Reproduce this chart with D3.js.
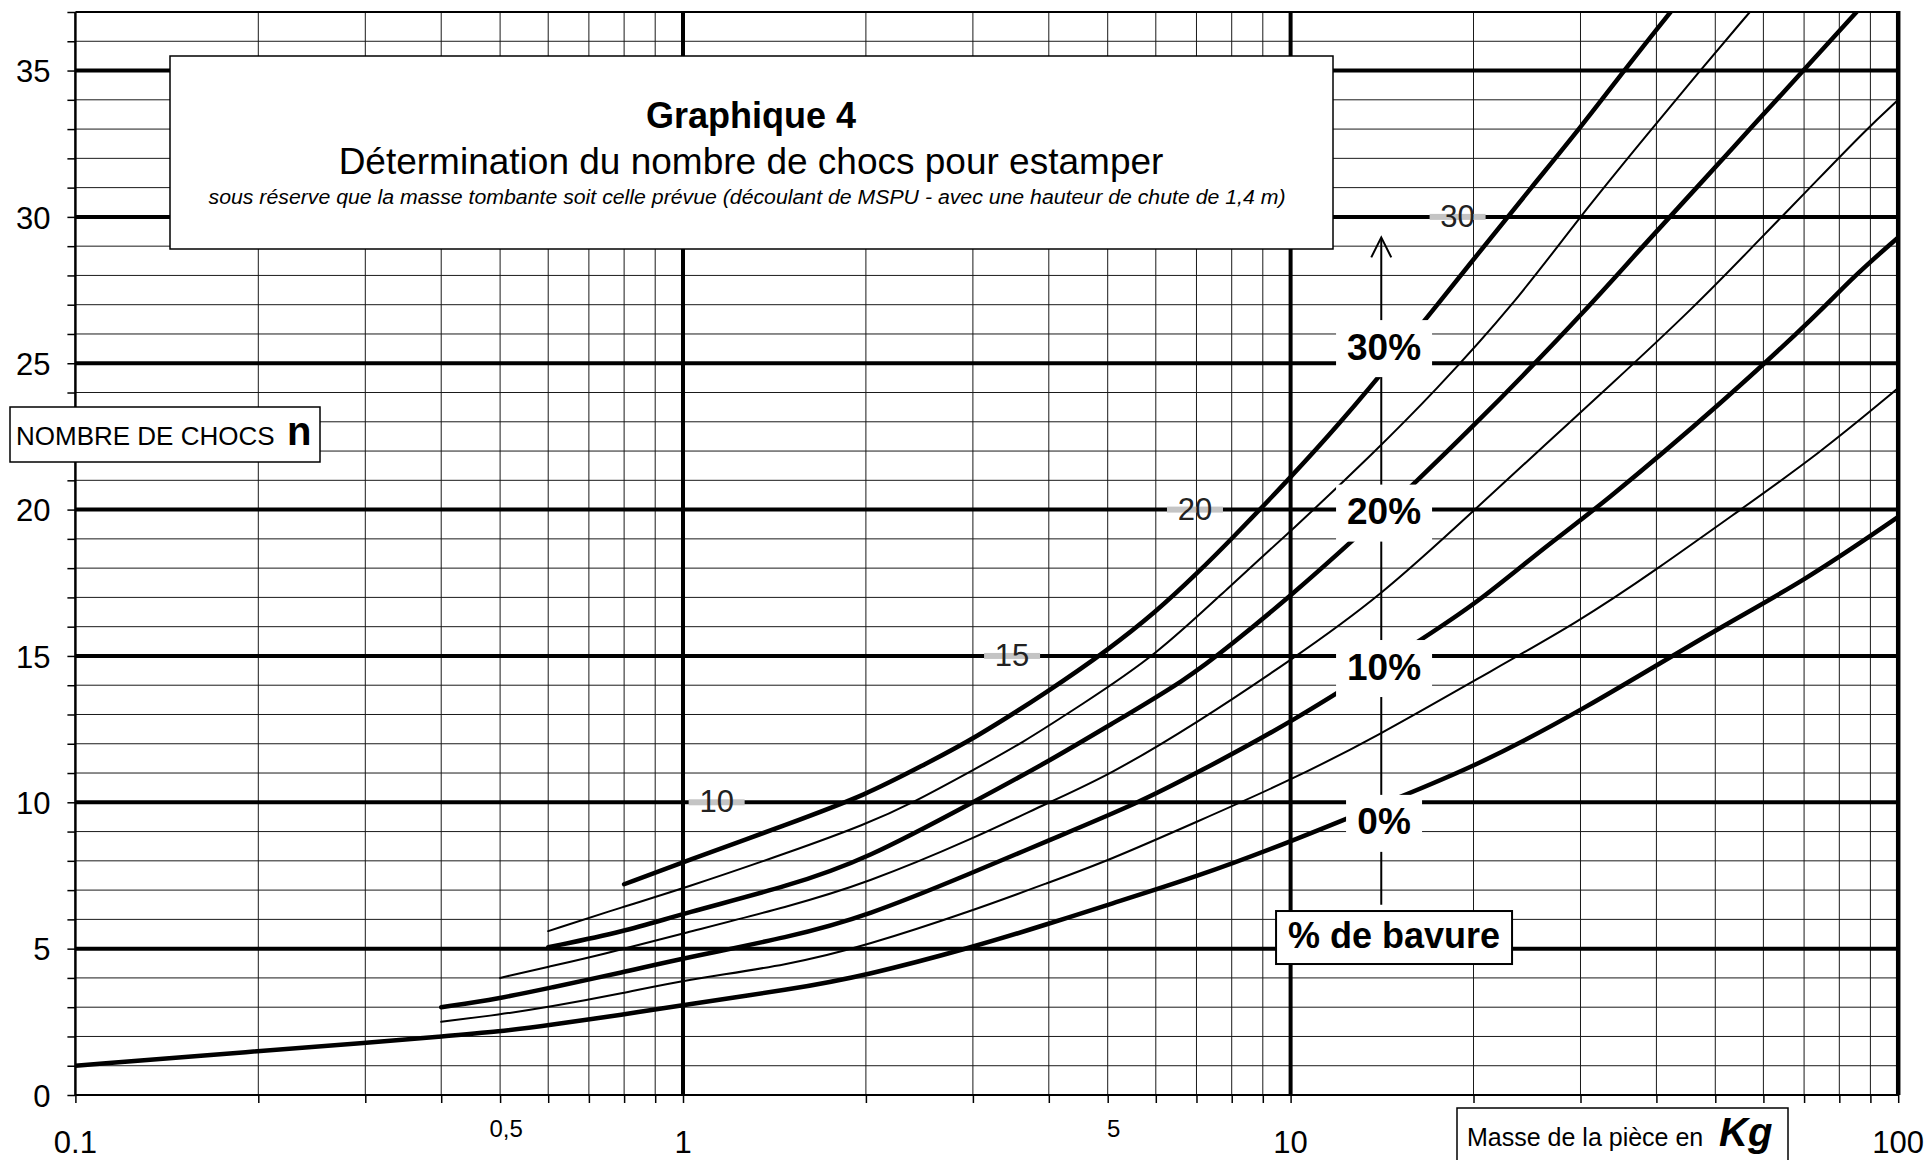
<!DOCTYPE html>
<html>
<head>
<meta charset="utf-8">
<script src="https://cdn.jsdelivr.net/npm/d3@7"></script>
<style>
  body { margin: 0; background: #fff; }
  text { font-family: "Liberation Sans", Arial, sans-serif; }
</style>
</head>
<body>
<div class="chart"></div>
<script>
// Graphique 4 - nombre de chocs pour estamper

// axis ticks
var massTicks = [0.1, 0.5, 1, 5, 10, 100];
var massTickLabels = ["0.1", "0,5", "1", "5", "10", "100"];
var chocTicks = [0, 5, 10, 15, 20, 25, 30, 35];

// curves, [masse kg, nombre de chocs], one per % de bavure
var bavure0 = [[0.1,1.0],[0.2,1.5],[0.3,1.78],[0.4,2.0],[0.5,2.17],[0.6,2.38],[0.8,2.75],[1,3.08],[1.5,3.6],[2,4.08],[3,5.05],[4,5.85],[5,6.5],[7,7.45],[10,8.65],[15,10.15],[20,11.2],[30,13.1],[50,15.9],[70,17.55],[100,19.75]];
var bavure5 = [[0.4,2.5],[0.5,2.75],[0.6,3.0],[0.8,3.48],[1,3.92],[1.5,4.45],[2,5.1],[3,6.3],[4,7.26],[5,8.0],[7,9.33],[10,10.75],[14,12.3],[20,14.15],[30,16.2],[40,17.95],[55,20],[74,21.9],[100,24.15]];
var bavure10 = [[0.4,3.0],[0.5,3.3],[0.6,3.65],[0.8,4.2],[1,4.67],[1.5,5.4],[2,6.1],[3,7.6],[4,8.7],[5.65,10],[7,11.0],[10,12.7],[16.4,15.55],[20.25,16.8],[26.7,18.86],[32,20.05],[52,23.75],[74.3,26.75],[84.3,27.95],[100,29.3]];
var bavure15 = [[0.5,4.0],[0.6,4.38],[0.73,4.78],[1,5.52],[1.5,6.45],[2,7.23],[3,8.75],[4,10.0],[5,10.9],[7,12.7],[10,14.85],[14,17],[20.1,20],[26.5,22.3],[33,24.1],[46.6,27],[57.7,29],[71.6,31],[88.7,33],[100,34.0]];
var bavure20 = [[0.6,5.05],[0.8,5.58],[1,6.2],[1.5,7.15],[2,8.05],[3,10.0],[4,11.4],[5,12.6],[6.75,14.2],[8,15.4],[10,17.05],[12.75,19],[16.2,21],[20.3,23],[23.8,24.45],[30.4,26.75],[38,29],[46.6,31],[57,33],[69.8,35],[85.4,37]];
var bavure25 = [[0.6,5.6],[0.8,6.44],[1,7.05],[1.5,8.3],[2,9.25],[2.4,10],[3,11.1],[3.6,12],[4.5,13.3],[6,15],[8,17.45],[10,19.25],[13.8,22],[17.2,24],[23.3,27],[29.9,30],[39.3,33],[47.2,35],[57,37]];
var bavure30 = [[0.8,7.2],[1,7.95],[1.5,9.28],[2,10.25],[2.5,11.3],[3,12.15],[4,13.8],[5,15.2],[6,16.5],[7,17.8],[8,19],[10,21.1],[12,22.9],[15,25.3],[20,28.55],[25,31.05],[30,33.05],[36,35.2],[42.2,37]];

// iso labels sitting on the gridlines
var isoLabels = ["10", "15", "20", "30"];
var isoLabelMass = [1.136, 3.48, 6.96, 18.83];
var isoLabelChocs = [10, 15, 20, 30];

// % de bavure labels
var pctLabels = ["30%", "20%", "10%", "0%"];
var pctLabelChocs = [25.5, 19.88, 14.57, 9.28];
var pctLabelMass = 14.25;

var svgWidth = 1930;
var svgHeight = 1160;

var plot = {left: 75.4, right: 1898.2, top: 12, bottom: 1095};

var svg = d3.select('.chart')
  .append('svg')
  .attr('width', svgWidth)
  .attr('height', svgHeight);

var xScale = d3.scaleLog().domain([0.1, 100]).range([plot.left, plot.right]);
var yScale = d3.scaleLinear().domain([0, 37]).range([plot.bottom, plot.top]);

// all vertical grid values 0.1 .. 100
var xGrid = [];
[0.1, 1, 10].forEach(function(dec) {
  for (var k = 1; k < 10; k++) xGrid.push(+(dec * k).toPrecision(3));
});
xGrid.push(100);

var gridGroup = svg.append('g');

// minor verticals
gridGroup.selectAll('line.vminor')
  .data(xGrid.filter(d => [0.1, 1, 10, 100].indexOf(d) < 0))
  .enter().append('line')
  .attr('x1', d => xScale(d)).attr('x2', d => xScale(d))
  .attr('y1', plot.top).attr('y2', plot.bottom)
  .attr('stroke', '#1a1a1a').attr('stroke-width', 1);

// minor horizontals
gridGroup.selectAll('line.hminor')
  .data(d3.range(1, 37).filter(d => d % 5 !== 0))
  .enter().append('line')
  .attr('x1', plot.left).attr('x2', plot.right)
  .attr('y1', d => yScale(d)).attr('y2', d => yScale(d))
  .attr('stroke', '#1a1a1a').attr('stroke-width', 1);

// major horizontals
gridGroup.selectAll('line.hmajor')
  .data(chocTicks.filter(d => d > 0))
  .enter().append('line')
  .attr('x1', plot.left).attr('x2', plot.right)
  .attr('y1', d => yScale(d)).attr('y2', d => yScale(d))
  .attr('stroke', '#000').attr('stroke-width', 4);

// frame and the thick decade lines
var frame = [
  {x1: plot.left, y1: yScale(0), x2: plot.right, y2: yScale(0), w: 2},
  {x1: plot.left, y1: yScale(37), x2: plot.right, y2: yScale(37), w: 2},
  {x1: xScale(0.1), y1: plot.top, x2: xScale(0.1), y2: plot.bottom, w: 2.5},
  {x1: xScale(1), y1: plot.top, x2: xScale(1), y2: plot.bottom, w: 4},
  {x1: xScale(10), y1: plot.top, x2: xScale(10), y2: plot.bottom, w: 4},
  {x1: xScale(100), y1: plot.top - 1, x2: xScale(100), y2: plot.bottom, w: 4.5}
];
gridGroup.selectAll('line.frame')
  .data(frame)
  .enter().append('line')
  .attr('x1', d => d.x1).attr('y1', d => d.y1)
  .attr('x2', d => d.x2).attr('y2', d => d.y2)
  .attr('stroke', '#000').attr('stroke-width', d => d.w);

// y axis ticks + labels
var leftAxis = d3.axisLeft(yScale)
  .tickValues(d3.range(0, 38))
  .tickSize(8)
  .tickPadding(17)
  .tickFormat(d => chocTicks.indexOf(d) >= 0 ? d : '');

svg.append('g')
  .attr('transform', `translate(${plot.left}, 0)`)
  .call(leftAxis)
  .call(g => g.select('.domain').remove())
  .call(g => g.selectAll('line').attr('stroke', '#000').attr('stroke-width', 1.5))
  .call(g => g.selectAll('text')
    .attr('font-size', 31)
    .attr('dy', '0.36em')
    .attr('font-family', '"Liberation Sans", Arial, sans-serif')
    .attr('fill', '#000'));

// x axis ticks
var bottomAxis = d3.axisBottom(xScale)
  .tickValues(xGrid)
  .tickSize(8)
  .tickFormat('');

svg.append('g')
  .attr('transform', `translate(0, ${plot.bottom})`)
  .call(bottomAxis)
  .call(g => g.select('.domain').remove())
  .call(g => g.selectAll('line').attr('stroke', '#000').attr('stroke-width', 1.5));

// x labels, the 0,5 and 5 ones are smaller and raised
var isSmall = d => d === 0.5 || d === 5;
svg.append('g').selectAll('text')
  .data(massTicks)
  .enter().append('text')
  .attr('x', d => xScale(d) + (isSmall(d) ? 6 : 0))
  .attr('y', d => isSmall(d) ? 1137 : 1153)
  .attr('text-anchor', 'middle')
  .attr('font-size', d => isSmall(d) ? 24 : 31)
  .text((d, i) => massTickLabels[i]);

// curves
var curves = [
  {pts: bavure0, thick: true},
  {pts: bavure5, thick: false},
  {pts: bavure10, thick: true},
  {pts: bavure15, thick: false},
  {pts: bavure20, thick: true},
  {pts: bavure25, thick: false},
  {pts: bavure30, thick: true}
];

var line = d3.line()
  .x(d => xScale(d[0]))
  .y(d => yScale(d[1]))
  .curve(d3.curveBasis);

svg.append('defs').append('clipPath').attr('id', 'plotclip')
  .append('rect')
  .attr('x', plot.left).attr('y', plot.top)
  .attr('width', plot.right - plot.left).attr('height', plot.bottom - plot.top);

svg.append('g')
  .attr('clip-path', 'url(#plotclip)')
  .selectAll('path')
  .data(curves)
  .enter().append('path')
  .attr('d', d => line(d.pts))
  .attr('fill', 'none')
  .attr('stroke', '#000')
  .attr('stroke-width', d => d.thick ? 4.5 : 2)
  .attr('stroke-linecap', 'round');

// iso labels on the gridlines
var isoGroup = svg.append('g');
isoLabels.forEach(function(lab, i) {
  var cx = xScale(isoLabelMass[i]);
  var cy = yScale(isoLabelChocs[i]);
  isoGroup.append('rect')
    .attr('x', cx - 28).attr('y', cy - 3)
    .attr('width', 56).attr('height', 6)
    .attr('fill', '#c4c4c4');
  isoGroup.append('text')
    .attr('x', cx).attr('y', cy + 10)
    .attr('text-anchor', 'middle')
    .attr('font-size', 31)
    .attr('fill', '#222')
    .text(lab);
});

// vertical arrow for % de bavure
var arrowX = xScale(14.1);
var tipY = yScale(29.3);
svg.append('line')
  .attr('x1', arrowX).attr('x2', arrowX)
  .attr('y1', tipY + 1).attr('y2', yScale(6.5))
  .attr('stroke', '#000').attr('stroke-width', 2);
svg.append('path')
  .attr('d', `M${arrowX - 10},${tipY + 20} L${arrowX},${tipY} L${arrowX + 10},${tipY + 20}`)
  .attr('fill', 'none').attr('stroke', '#000').attr('stroke-width', 2);

// % labels with white background
var pctGroup = svg.append('g');
pctLabels.forEach(function(lab, i) {
  var cx = xScale(pctLabelMass);
  var cy = yScale(pctLabelChocs[i]);
  var tw = lab.length === 3 ? 74 : 54;
  pctGroup.append('rect')
    .attr('x', cx - (tw + 22) / 2).attr('y', cy - 28.5)
    .attr('width', tw + 22).attr('height', 57)
    .attr('fill', '#fff');
  pctGroup.append('text')
    .attr('x', cx).attr('y', cy + 11)
    .attr('text-anchor', 'middle')
    .attr('font-size', 37)
    .attr('font-weight', 'bold')
    .text(lab);
});

// "% de bavure" box
var bavX = xScale(14.8), bavY = yScale(5.38);
svg.append('rect')
  .attr('x', bavX - 118).attr('y', bavY - 26.5)
  .attr('width', 236).attr('height', 53)
  .attr('fill', '#fff').attr('stroke', '#000').attr('stroke-width', 2);
svg.append('text')
  .attr('x', bavX).attr('y', bavY + 10)
  .attr('text-anchor', 'middle')
  .attr('font-size', 36).attr('font-weight', 'bold')
  .text('% de bavure');

// title box
svg.append('rect')
  .attr('x', 170).attr('y', 56)
  .attr('width', 1163).attr('height', 193)
  .attr('fill', '#fff').attr('stroke', '#000').attr('stroke-width', 1.5);
svg.append('text')
  .attr('x', 751).attr('y', 128)
  .attr('text-anchor', 'middle')
  .attr('font-size', 36).attr('font-weight', 'bold')
  .text('Graphique 4');
svg.append('text')
  .attr('x', 751).attr('y', 174)
  .attr('text-anchor', 'middle')
  .attr('font-size', 37)
  .text('Détermination du nombre de chocs pour estamper');
svg.append('text')
  .attr('x', 747).attr('y', 204)
  .attr('text-anchor', 'middle')
  .attr('font-size', 20).attr('font-style', 'italic')
  .attr('textLength', 1077).attr('lengthAdjust', 'spacingAndGlyphs')
  .text('sous réserve que la masse tombante soit celle prévue (découlant de MSPU - avec une hauteur de chute de 1,4 m)');

// y axis title box
svg.append('rect')
  .attr('x', 10).attr('y', 407)
  .attr('width', 310).attr('height', 55)
  .attr('fill', '#fff').attr('stroke', '#000').attr('stroke-width', 1.5);
svg.append('text')
  .attr('x', 16).attr('y', 445)
  .attr('font-size', 26)
  .text('NOMBRE DE CHOCS');
svg.append('text')
  .attr('x', 287).attr('y', 445)
  .attr('font-size', 40).attr('font-weight', 'bold')
  .text('n');

// x axis title box
svg.append('rect')
  .attr('x', 1457).attr('y', 1108)
  .attr('width', 331).attr('height', 70)
  .attr('fill', '#fff').attr('stroke', '#000').attr('stroke-width', 1.5);
svg.append('text')
  .attr('x', 1467).attr('y', 1146)
  .attr('font-size', 25)
  .text('Masse de la pièce en');
svg.append('text')
  .attr('x', 1719).attr('y', 1146)
  .attr('font-size', 40).attr('font-weight', 'bold').attr('font-style', 'italic')
  .text('Kg');
</script>
</body>
</html>
